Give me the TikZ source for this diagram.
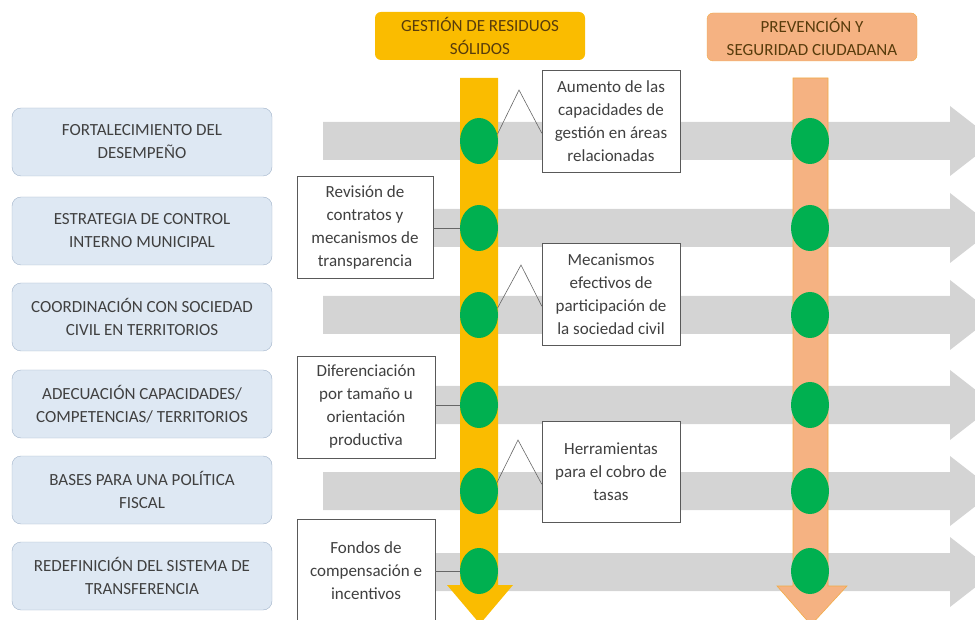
\documentclass[tikz,border=0pt]{standalone}
\usepackage{fontspec}
\setmainfont{Carlito}
\usepackage{tikz}
\usetikzlibrary{arrows,shapes.geometric}

\definecolor{gestion}{RGB}{250,188,0}
\definecolor{prevencion}{RGB}{245,178,130}
\definecolor{prevborde}{RGB}{242,172,70}
\definecolor{barra}{RGB}{212,212,212}
\definecolor{verde}{RGB}{0,176,80}
\definecolor{azul}{RGB}{222,232,243}
\definecolor{azulborde}{RGB}{162,180,202}
\definecolor{texto}{RGB}{64,64,64}
\definecolor{titulo}{RGB}{88,60,12}

\tikzset{
	eje/.style={rounded corners=9pt, draw=azulborde, fill=azul, minimum width=260pt, minimum height=68pt, align=center, text=texto},
	nota/.style={draw=gray!70!black, fill=white, minimum width=138pt, minimum height=102pt, align=center, text=texto, inner sep=2pt},
	cab/.style={rounded corners=6pt, minimum width=210pt, minimum height=48pt, align=center, text=titulo},
	hito/.style={ellipse, fill=verde, minimum width=38pt, minimum height=46pt, inner sep=0pt},
	linea/.style={draw=gray!80!black, line width=0.6pt}
}

\begin{document}
\begin{tikzpicture}[x=1pt,y=-1pt,font=\fontsize{17}{23}\selectfont]
	\useasboundingbox (0,0) rectangle (975,620);
	\clip (0,0) rectangle (975,620);
	% gray row arrows
	\foreach \y in {141,228,315,405,491,572}
		\fill[barra] (323,{\y-19}) -- (950,{\y-19}) -- (950,{\y-35}) -- (995,\y) -- (950,{\y+35}) -- (950,{\y+19}) -- (323,{\y+19}) -- cycle;
	% vertical arrows
	\fill[gestion] (460,78) -- (498,78) -- (498,585) -- (513,585) -- (480,624) -- (447,585) -- (460,585) -- cycle;
	\filldraw[fill=prevencion, draw=prevborde, line width=0.6pt] (793,78) -- (828,78) -- (828,586) -- (847,586) -- (811,625) -- (777,586) -- (793,586) -- cycle;
	% headers
	\node[cab, fill=gestion] (hgestion) at (480,36) {GESTIÓN DE RESIDUOS\\SÓLIDOS};
	\node[cab, fill=prevencion, draw=prevborde] (hprevencion) at (812,37) {PREVENCIÓN Y\\SEGURIDAD CIUDADANA};
	% milestones
	\foreach \y [count=\i] in {141,228,315,405,491,571} {
		\node[hito] (g\i) at (479,\y) {};
		\node[hito] (p\i) at (810,\y) {};
	}
	% axes
	\node[eje] (e1) at (142,142) {FORTALECIMIENTO DEL\\DESEMPEÑO};
	\node[eje] (e2) at (142,231) {ESTRATEGIA DE CONTROL\\INTERNO MUNICIPAL};
	\node[eje] (e3) at (142,317) {COORDINACIÓN CON SOCIEDAD\\CIVIL EN TERRITORIOS};
	\node[eje] (e4) at (142,404) {ADECUACIÓN CAPACIDADES/\\COMPETENCIAS/ TERRITORIOS};
	\node[eje] (e5) at (142,490) {BASES PARA UNA POLÍTICA\\FISCAL};
	\node[eje] (e6) at (142,576) {REDEFINICIÓN DEL SISTEMA DE\\TRANSFERENCIA};
	% notes
	\node[nota] (aumento) at (611,121) {Aumento de las\\capacidades de\\gestión en áreas\\relacionadas};
	\node[nota, minimum width=136pt] (revision) at (365,227) {Revisión de\\contratos y\\mecanismos de\\transparencia};
	\node[nota] (mecanismos) at (611,294) {Mecanismos\\efectivos de\\participación de\\la sociedad civil};
	\node[nota] (diferencia) at (366,407) {Diferenciación\\por tamaño u\\orientación\\productiva};
	\node[nota, minimum height=101pt] (herramientas) at (611,472) {Herramientas\\para el cobro de\\tasas};
	\node[nota, minimum height=104pt] (fondos) at (366,571) {Fondos de\\compensación e\\incentivos};
	% connectors
	\coordinate (tA) at (519,90);
	\coordinate (tC) at (521,265);
	\coordinate (tE) at (518,440);
	\draw[linea] (g1.20) -- (tA) -- (aumento.190);
	\draw[linea] (g3.20) -- (tC) -- (mecanismos.190);
	\draw[linea] (g5.25) -- (tE) -- (herramientas.190);
	\draw[linea] (revision.east |- g2) -- (g2.west);
	\draw[linea] (diferencia.east |- g4) -- (g4.west);
	\draw[linea] (fondos.east |- g6) -- (g6.west);
\end{tikzpicture}
\end{document}
